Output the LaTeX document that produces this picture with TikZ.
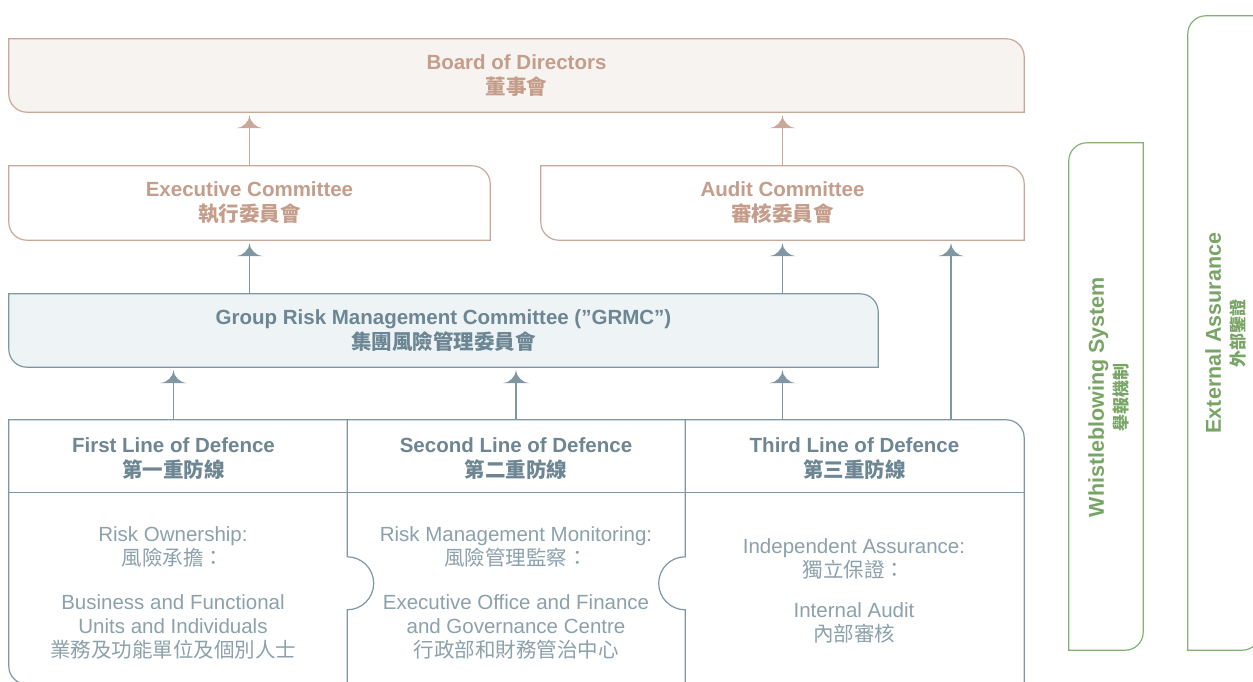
\documentclass[tikz,border=0pt]{standalone}
\usepackage{fontspec}
\setmainfont{Liberation Sans}
\newfontfamily\cjk{Noto Sans CJK TC}
\usetikzlibrary{arrows.meta,positioning,backgrounds}

\definecolor{tanline}{HTML}{C9A89A}
\definecolor{tantext}{HTML}{C49D8B}
\definecolor{tanfill}{HTML}{F7F3F0}
\definecolor{slateline}{HTML}{7E97A2}
\definecolor{slatetext}{HTML}{6D8693}
\definecolor{slatebody}{HTML}{8CA1AB}
\definecolor{slatefill}{HTML}{EEF3F6}
\definecolor{greenline}{HTML}{86AF78}
\definecolor{greentext}{HTML}{78A566}

% arrow tip with hollow flanks
\pgfdeclarearrow{
  name = Flare,
  parameters = {\the\pgfarrowlength,\the\pgfarrowwidth},
  setup code = {
    \pgfarrowssettipend{0pt}
    \pgfarrowssetlineend{-0.6\pgfarrowlength}
    \pgfarrowssetbackend{-\pgfarrowlength}
    \pgfarrowsupperhullpoint{0pt}{0pt}
    \pgfarrowsupperhullpoint{-\pgfarrowlength}{.5\pgfarrowwidth}
    \pgfarrowssavethe\pgfarrowlength
    \pgfarrowssavethe\pgfarrowwidth
  },
  drawing code = {
    \pgfpathmoveto{\pgfpointorigin}
    \pgfpathcurveto{\pgfpoint{-.45\pgfarrowlength}{0pt}}{\pgfpoint{-\pgfarrowlength}{.25\pgfarrowwidth}}{\pgfpoint{-\pgfarrowlength}{.5\pgfarrowwidth}}
    \pgfpathlineto{\pgfpoint{-\pgfarrowlength}{-.5\pgfarrowwidth}}
    \pgfpathcurveto{\pgfpoint{-\pgfarrowlength}{-.25\pgfarrowwidth}}{\pgfpoint{-.45\pgfarrowlength}{0pt}}{\pgfpointorigin}
    \pgfpathclose
    \pgfusepathqfill
  },
  defaults = {length=13pt, width=27pt}
}

% box with round top right and bottom left corners
\newcommand\tabbox[3]{%
  \filldraw[draw=#2,fill=#3,line width=1.2pt] (#1.north west) -- ([xshift=-18pt]#1.north east)
    arc[start angle=90,end angle=0,radius=18pt] -- (#1.south east) -- ([xshift=18pt]#1.south west)
    arc[start angle=270,end angle=180,radius=18pt] -- cycle;}
% box with round top left and bottom right corners
\newcommand\sidebox[1]{%
  \draw[greenline,line width=1.2pt] (#1.north east) -- ([xshift=18pt]#1.north west)
    arc[start angle=90,end angle=180,radius=18pt] -- (#1.south west) -- ([xshift=-18pt]#1.south east)
    arc[start angle=270,end angle=360,radius=18pt] -- cycle;}

\tikzset{
  box/.style={inner sep=0pt, align=center, font=\bfseries\fontsize{20.5}{25}\selectfont},
  body/.style={inner sep=0pt, align=center, text=slatebody, font=\fontsize{20.5}{24}\selectfont},
  side/.style={inner sep=0pt, align=center, rotate=90, text=greentext, font=\bfseries\fontsize{21.5}{24}\selectfont},
  up/.style={-{Flare}, line width=1.2pt, shorten >=3pt},
}

\begin{document}
\begin{tikzpicture}[x=1pt,y=1pt]
\useasboundingbox (0,0) rectangle (1253,-682);

% committees
\node[box, text=tantext, minimum width=1015, minimum height=73] (board) at (516.5,-75.5) {Board of Directors\\{\cjk 董事會}};
\node[box, text=tantext, minimum width=481, minimum height=74] (exec) at (249.5,-203) {Executive Committee\\{\cjk 執行委員會}};
\node[box, text=tantext, minimum width=483, minimum height=74] (audit) at (782.5,-203) {Audit Committee\\{\cjk 審核委員會}};
\node[box, text=slatetext, minimum width=869, minimum height=73] (grmc) at (443.5,-330.5) {Group Risk Management Committee (”GRMC”)\\{\cjk 集團風險管理委員會}};

% three lines of defence
\node[minimum width=1015, minimum height=264, inner sep=0pt] (lines) at (516.5,-552) {};
\node[box, text=slatetext, minimum width=347, minimum height=66] (first) at (173.5,-459) {First Line of Defence\\{\cjk 第一重防線}};
\node[box, text=slatetext, minimum width=338, minimum height=66] (second) at (516,-459) {Second Line of Defence\\{\cjk 第二重防線}};
\node[box, text=slatetext, minimum width=339, minimum height=66] (third) at (854.5,-459) {Third Line of Defence\\{\cjk 第三重防線}};
\node[body] (firstbody) at (173,-593) {Risk Ownership:\\{\cjk 風險承擔：}\\[20pt]Business and Functional\\Units and Individuals\\{\cjk 業務及功能單位及個別人士}};
\node[body] (secondbody) at (516,-593) {Risk Management Monitoring:\\{\cjk 風險管理監察：}\\[20pt]Executive Office and Finance\\and Governance Centre\\{\cjk 行政部和財務管治中心}};
\node[body] (thirdbody) at (854,-591) {Independent Assurance:\\{\cjk 獨立保證：}\\[16pt]Internal Audit\\{\cjk 內部審核}};

% side boxes
\node[minimum width=74, minimum height=507, inner sep=0pt] (whistle) at (1106,-396.5) {};
\node[side] (whistletext) at (1109,-397) {Whistleblowing System\\{\cjk\fontsize{17}{18}\selectfont 舉報機制}};
\node[minimum width=72, minimum height=634, inner sep=0pt] (external) at (1224,-333) {};
\node[side] (externaltext) at (1226,-333) {External Assurance\\{\cjk\fontsize{17}{18}\selectfont 外部鑒證}};

\begin{scope}[on background layer]
  \tabbox{board}{tanline}{tanfill}
  \tabbox{exec}{tanline}{white}
  \tabbox{audit}{tanline}{white}
  \tabbox{grmc}{slateline}{slatefill}
  \tabbox{lines}{slateline}{white}
  \draw[slateline,line width=1.2pt] (lines.west |- first.south) -- (lines.east |- first.south);
  \draw[slateline,line width=1.2pt] (first.south east |- lines.north) -- ++(0,-137) arc[start angle=90,end angle=-90,radius=26.5] -- (first.south east |- lines.south);
  \draw[slateline,line width=1.2pt] (second.south east |- lines.north) -- ++(0,-137) arc[start angle=90,end angle=270,radius=26.5] -- (second.south east |- lines.south);
  \sidebox{whistle}
  \sidebox{external}
\end{scope}

% reporting lines
\draw[up, tanline] (exec.north) -- (exec.north |- board.south);
\draw[up, tanline] (audit.north) -- (audit.north |- board.south);
\draw[up, slateline] (exec.south |- grmc.north) -- (exec.south);
\draw[up, slateline] (audit.south |- grmc.north) -- (audit.south);
\draw[up, slateline] (first.north |- lines.north) -- (first.north |- grmc.south);
\draw[up, slateline] (second.north |- lines.north) -- (second.north |- grmc.south);
\draw[up, slateline] (audit.south |- lines.north) -- (audit.south |- grmc.south);
\coordinate (tap) at (951,-420);
\draw[up, slateline] (tap) -- (tap |- audit.south);
\end{tikzpicture}
\end{document}
